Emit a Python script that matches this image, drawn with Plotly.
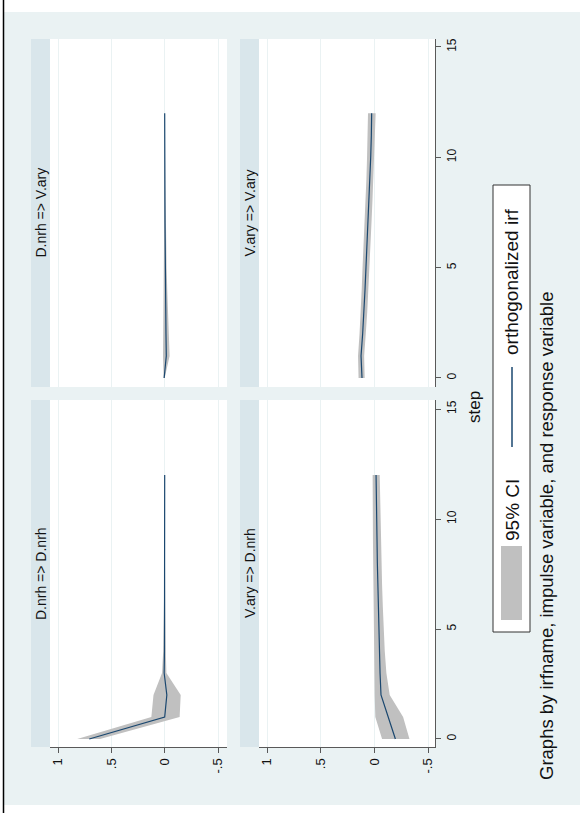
import plotly.graph_objects as go

W, H = 580, 813

# ---------------- data ----------------
steps = [0, 1, 2, 3, 4, 5, 6, 7, 8, 9, 10, 11, 12]

panel_titles = ["D.nrh => V.ary", "V.ary => V.ary", "D.nrh => D.nrh", "V.ary => D.nrh"]

# D.nrh => V.ary
nrh_ary_irf = [0.005, -0.015, -0.012, -0.009, -0.007, -0.005, -0.004, -0.003, -0.002, -0.001, -0.001, 0.000, 0.000]
nrh_ary_lo = [0.000, -0.046, -0.040, -0.030, -0.024, -0.018, -0.014, -0.010, -0.008, -0.006, -0.004, -0.003, -0.002]
nrh_ary_hi = [0.010, 0.016, 0.014, 0.011, 0.009, 0.007, 0.006, 0.004, 0.003, 0.003, 0.002, 0.002, 0.001]

# V.ary => V.ary
ary_ary_irf = [0.115, 0.124, 0.109, 0.096, 0.087, 0.078, 0.068, 0.059, 0.050, 0.040, 0.034, 0.028, 0.025]
ary_ary_lo = [0.090, 0.095, 0.080, 0.066, 0.056, 0.046, 0.036, 0.027, 0.018, 0.009, 0.002, -0.006, -0.012]
ary_ary_hi = [0.147, 0.152, 0.138, 0.126, 0.118, 0.110, 0.100, 0.091, 0.082, 0.074, 0.068, 0.063, 0.059]

# D.nrh => D.nrh
nrh_nrh_irf = [0.707, 0.000, -0.020, 0.005, 0.002, 0.001, 0.000, 0.000, 0.000, 0.000, 0.000, 0.000, 0.000]
nrh_nrh_lo = [0.607, -0.140, -0.150, -0.016, -0.010, -0.007, -0.005, -0.004, -0.003, -0.002, -0.002, -0.001, -0.001]
nrh_nrh_hi = [0.820, 0.125, 0.105, 0.025, 0.014, 0.009, 0.006, 0.004, 0.003, 0.002, 0.002, 0.001, 0.001]

# V.ary => D.nrh
ary_nrh_irf = [-0.196, -0.128, -0.062, -0.053, -0.047, -0.040, -0.034, -0.031, -0.028, -0.025, -0.022, -0.019, -0.016]
ary_nrh_lo = [-0.327, -0.268, -0.143, -0.112, -0.097, -0.087, -0.079, -0.072, -0.066, -0.061, -0.056, -0.053, -0.050]
ary_nrh_hi = [-0.072, -0.009, -0.003, 0.000, 0.005, 0.008, 0.010, 0.011, 0.012, 0.013, 0.014, 0.015, 0.016]

value_tickvals = [1, 0.5, 0, -0.5]
value_ticktext = ["1", ".5", "0", "-.5"]
step_tickvals = [0, 5, 10, 15]
step_ticktext = ["0", "5", "10", "15"]

legend_labels = ["95% CI", "orthogonalized irf"]
x_title = "step"
note_text = "Graphs by irfname, impulse variable, and response variable"

panels = [
    (nrh_ary_irf, nrh_ary_lo, nrh_ary_hi),
    (ary_ary_irf, ary_ary_lo, ary_ary_hi),
    (nrh_nrh_irf, nrh_nrh_lo, nrh_nrh_hi),
    (ary_nrh_irf, ary_nrh_lo, ary_nrh_hi),
]

# ---------------- style / geometry ----------------
BG = "#EAF2F3"
STRIP = "#D9E6EB"
NAVY = "#1A476F"
CI_GRAY = "#C0C0C0"
AXIS = "#595959"
TXT = "#111111"
FONT = "Liberation Sans, Arial, sans-serif"

def fx(px):
    return px / W

def fy(py):
    return 1 - py / H

cols = [(50, 227), (259, 435)]
rows = [(39, 387), (400, 747)]
col_strip = [(31, 50), (240, 259)]
val_ranges = [[1.075, -0.584], [1.0745, -0.565]]
step_ranges = [[-0.41, 15.36], [-0.364, 15.41]]

fig = go.Figure()
layout = dict(
    width=W, height=H,
    margin=dict(l=0, r=0, t=0, b=0),
    paper_bgcolor=BG,
    plot_bgcolor="white",
    showlegend=False,
    font=dict(family=FONT, color=TXT),
)

shapes = []
annotations = []

for i, (irf, lo, hi) in enumerate(panels):
    r, c = divmod(i, 2)
    n = i + 1
    xa = "x" if n == 1 else f"x{n}"
    ya = "y" if n == 1 else f"y{n}"
    # CI band: value on horizontal axis, step on vertical axis
    fig.add_trace(go.Scatter(
        x=list(hi) + list(lo)[::-1],
        y=list(steps) + list(steps)[::-1],
        fill="toself", fillcolor=CI_GRAY, mode="lines",
        line=dict(width=0, color=CI_GRAY), hoverinfo="skip",
        xaxis=xa, yaxis=ya,
    ))
    fig.add_trace(go.Scatter(
        x=irf, y=steps, mode="lines",
        line=dict(color=NAVY, width=1.2),
        xaxis=xa, yaxis=ya,
    ))
    bottom = (r == 1)
    right = (c == 1)
    layout["xaxis" if n == 1 else f"xaxis{n}"] = dict(
        domain=[fx(cols[c][0]), fx(cols[c][1])],
        range=val_ranges[c],
        anchor=ya,
        tickmode="array", tickvals=value_tickvals, ticktext=value_ticktext,
        showgrid=True, gridcolor=BG, gridwidth=1, zeroline=False,
        showline=bottom, linecolor=AXIS, linewidth=1.2,
        ticks="outside" if bottom else "", ticklen=5, tickcolor=AXIS, tickwidth=1.2,
        showticklabels=bottom, tickangle=-90,
        tickfont=dict(size=13, family=FONT, color=TXT),
        fixedrange=True,
    )
    layout["yaxis" if n == 1 else f"yaxis{n}"] = dict(
        domain=[fy(rows[r][1]), fy(rows[r][0])],
        range=step_ranges[r],
        anchor=xa, side="right",
        tickmode="array", tickvals=step_tickvals, ticktext=step_ticktext,
        showgrid=False, zeroline=False,
        showline=right, linecolor=AXIS, linewidth=1.2,
        ticks="outside" if right else "", ticklen=5, tickcolor=AXIS, tickwidth=1.2,
        showticklabels=right, tickangle=-90,
        tickfont=dict(size=12, family=FONT, color=TXT),
        fixedrange=True,
    )
    # strip
    sx0, sx1 = col_strip[c]
    shapes.append(dict(type="rect", xref="paper", yref="paper",
                       x0=fx(sx0), x1=fx(sx1), y0=fy(rows[r][1]), y1=fy(rows[r][0]),
                       fillcolor=STRIP, line=dict(width=0), layer="below"))
    annotations.append(dict(xref="paper", yref="paper",
                            x=fx((sx0 + sx1) / 2), y=fy((rows[r][0] + rows[r][1]) / 2),
                            text=panel_titles[i], showarrow=False, textangle=-90,
                            xanchor="center", yanchor="middle",
                            font=dict(size=14, family=FONT, color=TXT)))

# page edges (white) and left black border
shapes.append(dict(type="rect", xref="paper", yref="paper", x0=0, x1=1, y0=fy(12), y1=1,
                   fillcolor="white", line=dict(width=0), layer="above"))
shapes.append(dict(type="rect", xref="paper", yref="paper", x0=0, x1=1, y0=0, y1=fy(805),
                   fillcolor="white", line=dict(width=0), layer="above"))
shapes.append(dict(type="rect", xref="paper", yref="paper", x0=0, x1=fx(3), y0=0, y1=1,
                   fillcolor="white", line=dict(width=0), layer="above"))
shapes.append(dict(type="line", xref="paper", yref="paper", x0=fx(3.5), x1=fx(3.5), y0=0, y1=1,
                   line=dict(color="black", width=1.5), layer="above"))

# legend box
shapes.append(dict(type="rect", xref="paper", yref="paper",
                   x0=fx(493), x1=fx(530), y0=fy(632), y1=fy(185),
                   fillcolor="white", line=dict(color="#333333", width=1), layer="above"))
shapes.append(dict(type="rect", xref="paper", yref="paper",
                   x0=fx(501), x1=fx(522), y0=fy(620), y1=fy(546),
                   fillcolor=CI_GRAY, line=dict(width=0), layer="above"))
shapes.append(dict(type="line", xref="paper", yref="paper",
                   x0=fx(512), x1=fx(512), y0=fy(447), y1=fy(367),
                   line=dict(color=NAVY, width=1.5), layer="above"))
annotations.append(dict(xref="paper", yref="paper", x=fx(512), y=fy(510),
                        text=legend_labels[0], showarrow=False, textangle=-90,
                        xanchor="center", yanchor="middle",
                        font=dict(size=19, family=FONT, color=TXT)))
annotations.append(dict(xref="paper", yref="paper", x=fx(512), y=fy(282),
                        text=legend_labels[1], showarrow=False, textangle=-90,
                        xanchor="center", yanchor="middle",
                        font=dict(size=19, family=FONT, color=TXT)))
# x title "step"
annotations.append(dict(xref="paper", yref="paper", x=fx(474), y=fy(407),
                        text=x_title, showarrow=False, textangle=-90,
                        xanchor="center", yanchor="middle",
                        font=dict(size=17, family=FONT, color=TXT)))
# note
annotations.append(dict(xref="paper", yref="paper", x=fx(546), y=fy(536),
                        text=note_text, showarrow=False, textangle=-90,
                        xanchor="center", yanchor="middle",
                        font=dict(size=18.5, family=FONT, color=TXT)))

layout["shapes"] = shapes
layout["annotations"] = annotations
fig.update_layout(**layout)
fig.write_html("out.html", config={"displayModeBar": False},
               post_script="document.body.style.margin='0';document.body.style.overflow='hidden';")
